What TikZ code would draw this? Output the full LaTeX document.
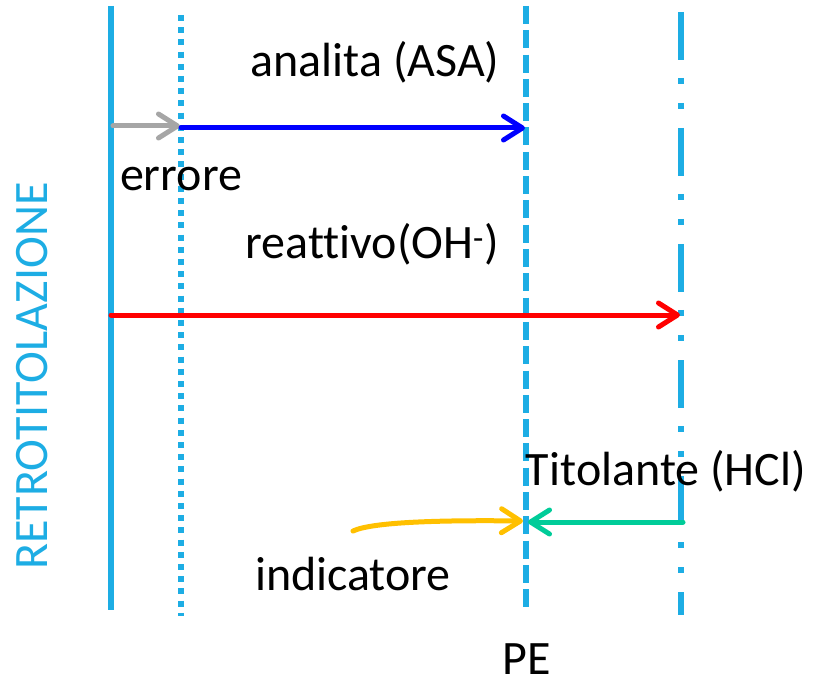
\documentclass[tikz,border=0pt]{standalone}
\usepackage{fontspec}
\setmainfont{Carlito}[Ligatures=CommonOff]
\usetikzlibrary{arrows.meta}
\definecolor{cyanl}{RGB}{29,173,228}
\definecolor{grayarr}{RGB}{166,166,166}
\definecolor{bluearr}{RGB}{0,0,255}
\definecolor{redarr}{RGB}{255,0,0}
\definecolor{greenarr}{RGB}{0,204,153}
\definecolor{yellowarr}{RGB}{255,192,0}
\begin{document}
\begin{tikzpicture}[x=1pt,y=-1pt,
  vline/.style={cyanl, line width=5.5pt},
  arr/.style={line width=5pt, line cap=round, -{Straight Barb[length=19pt,width=24pt,round]}},
  lbl/.style={font=\fontsize{48}{52}\selectfont, anchor=base, inner sep=0pt}]
\useasboundingbox (0,0) rectangle (813,684);
% vertical lines
\coordinate (L1t) at (111,6);   \coordinate (L1b) at (111,610);
\coordinate (L2t) at (181,15);  \coordinate (L2b) at (181,616);
\coordinate (L3t) at (526,6);   \coordinate (L3b) at (526,607);
\coordinate (L4t) at (681,12);  \coordinate (L4b) at (681,615);
\draw[vline] (L1t) -- (L1b);
\draw[vline, line width=6pt, dash pattern=on 6pt off 6.2pt] (L2t) -- (L2b);
\draw[vline, dash pattern=on 18pt off 6.3pt] (L3t) -- (L3b);
\draw[vline, line width=6pt, dash pattern=on 48pt off 18pt on 6pt off 19pt on 6pt off 19pt] (L4t) -- (L4b);
% arrow endpoints
\coordinate (g1) at (113,126); \coordinate (g2) at (180,126);
\coordinate (b1) at (181,128); \coordinate (b2) at (525,128);
\coordinate (r1) at (111,315); \coordinate (r2) at (680,315);
\coordinate (t1) at (683,522); \coordinate (t2) at (528,522);
\coordinate (y1) at (353,531); \coordinate (y2) at (523,521);
\draw[arr, grayarr] (g1) -- (g2);
\draw[arr, bluearr] (b1) -- (b2);
\draw[arr, redarr] (r1) -- (r2);
\draw[arr, greenarr] (t1) -- (t2);
\draw[arr, yellowarr] (y1) .. controls (372,522) and (440,520) .. (y2);
% labels
\node[lbl] (lanalita) at (375,77) {analita (ASA)};
\node[lbl] (lerrore) at (181,191) {errore};
\node[lbl] (lreatt) at (372,259) {reattivo(OH\textsuperscript{-})};
\node[lbl] (ltitol) at (666,485) {Titolante (HCl)};
\node[lbl] (lind) at (353,590) {indicatore};
\node[lbl] (lpe) at (527,674) {PE};
\node[lbl, rotate=90, text=cyanl] (lretro) at (47,376) {RETROTITOLAZIONE};
\end{tikzpicture}
\end{document}
